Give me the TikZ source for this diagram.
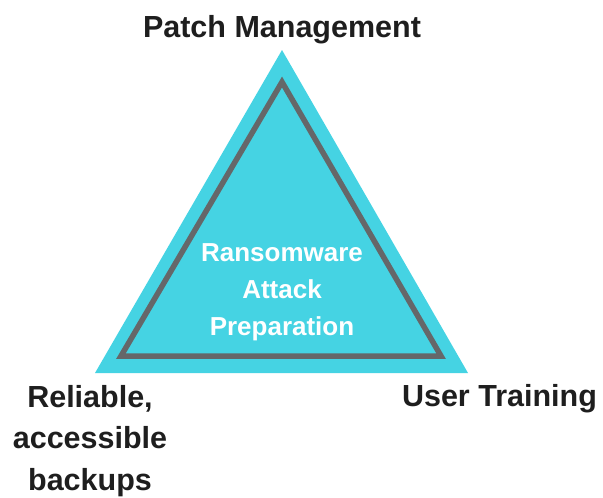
\documentclass[tikz,border=0pt]{standalone}
\usepackage{fontspec}
\setmainfont{Liberation Sans}
\definecolor{tri}{HTML}{45D3E3}
\definecolor{edge}{HTML}{656769}
\definecolor{txt}{HTML}{1E1E1E}
\begin{document}
\begin{tikzpicture}[x=1pt,y=-1pt,
  lab/.style={font=\bfseries\fontsize{30.5}{41.5}\selectfont, text=txt, align=center, inner sep=0pt},
  inlab/.style={font=\bfseries\fontsize{26}{37}\selectfont, text=white, align=center, inner sep=0pt}]
\useasboundingbox (0,0) rectangle (603,498);
\fill[tri] (282,50) coordinate (A) -- (468,373) coordinate (C) -- (95,373) coordinate (B) -- cycle;
\draw[edge, line width=5.5pt, line join=miter] (282,82) -- (441,356) -- (121,356) -- cycle;
\node[lab] (top) at (282,30) {Patch Management};
\node[lab] (bl) at (90,441) {Reliable,\\accessible\\backups};
\node[lab] (br) at (499.5,399) {User Training};
\node[inlab] (mid) at (282,292) {Ransomware\\Attack\\Preparation};
\end{tikzpicture}
\end{document}
